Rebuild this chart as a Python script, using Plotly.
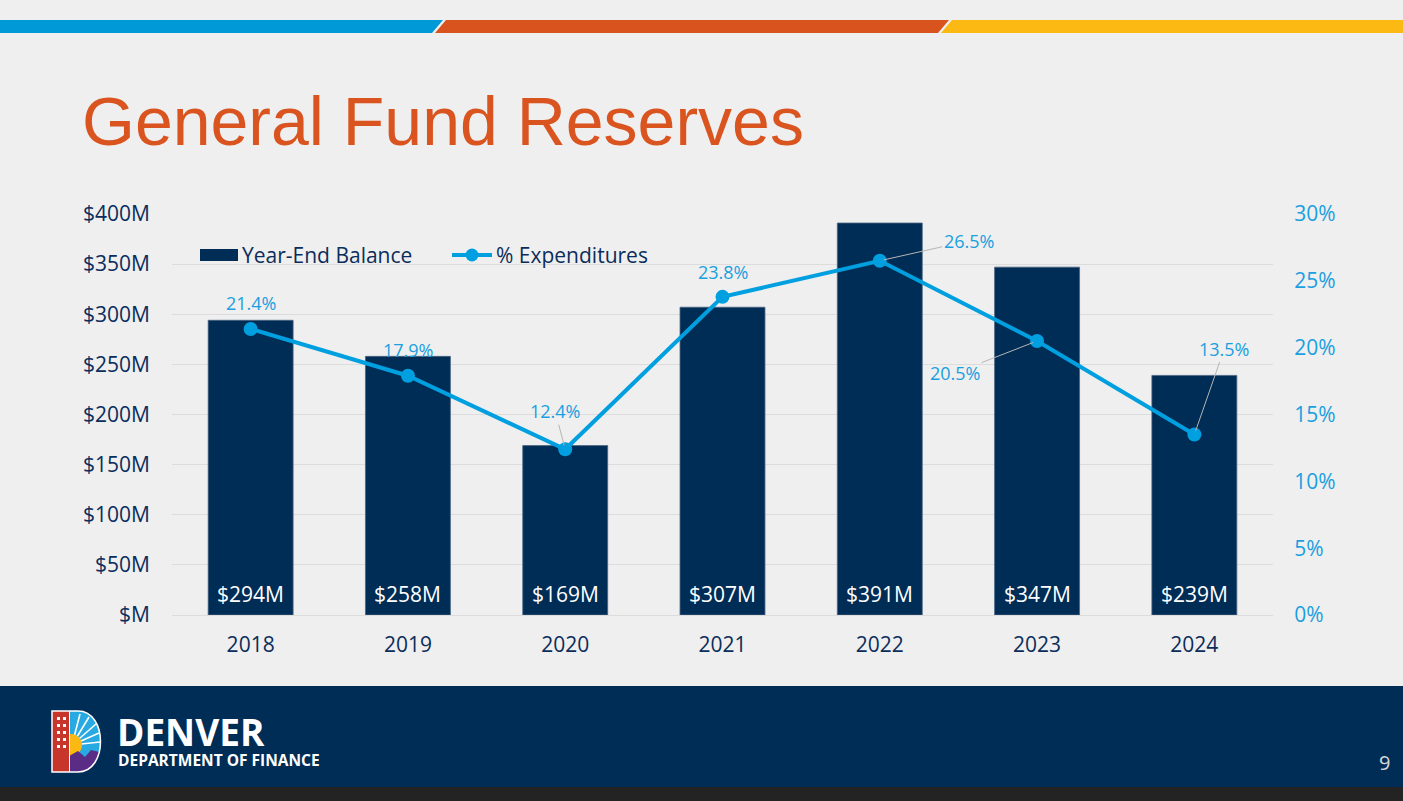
import plotly.graph_objects as go

# ---------------- data ----------------
years = ["2018", "2019", "2020", "2021", "2022", "2023", "2024"]
balance_m = [294, 258, 169, 307, 391, 347, 239]
pct_exp = [21.4, 17.9, 12.4, 23.8, 26.5, 20.5, 13.5]
left_tickvals = [0, 50, 100, 150, 200, 250, 300, 350, 400]
left_ticktext = ["$M", "$50M", "$100M", "$150M", "$200M", "$250M", "$300M", "$350M", "$400M"]
right_tickvals = [0, 5, 10, 15, 20, 25, 30]
right_ticktext = ["0%", "5%", "10%", "15%", "20%", "25%", "30%"]
# label offsets (px) for the % labels: (ax, ay, leader line?)
pct_label_offsets = [(0, -26, False), (0, -26, False), (-10, -38, True), (0, -25, False),
                     (89, -20, True), (-82, 32, True), (30, -86, True)]

# ---------------- style ----------------
W, H = 1403, 801
L, R, T, B = 172, 1273, 214, 615
NAVY = "#002D56"
TXT = "#0B2D5B"
LBLUE = "#009FDF"
BG = "#EFEFEF"
FONT = "Open Sans, Liberation Sans, Arial, sans-serif"


def X(px):
    return (px - L) / (R - L)


def Y(py):
    return (B - py) / (B - T)


fig = go.Figure()
fig.add_trace(go.Bar(x=years, y=balance_m, name="Year-End Balance",
                     marker=dict(color=NAVY, line=dict(color="#4a6380", width=0.8)),
                     width=0.54, hoverinfo="skip", showlegend=False))
fig.add_trace(go.Scatter(x=years, y=pct_exp, name="% Expenditures", yaxis="y2",
                         mode="lines+markers", line=dict(color=LBLUE, width=4),
                         marker=dict(size=14, color=LBLUE), hoverinfo="skip",
                         showlegend=False))

ann = []
# bar value labels (category index positions)
for i, v in enumerate(balance_m):
    ann.append(dict(x=i, y=0, xref="x", yref="y", text=f"${v}M", showarrow=False,
                    yanchor="middle", yshift=21, font=dict(size=21, color="white", family=FONT)))
# percentage labels
for i, (p, (ax, ay, lead)) in enumerate(zip(pct_exp, pct_label_offsets)):
    if lead:
        ann.append(dict(x=i, y=p, xref="x", yref="y2", text=f"{p}%", showarrow=True,
                        arrowhead=0, arrowwidth=1, arrowcolor="#B5B5B5", ax=ax, ay=ay,
                        standoff=4, font=dict(size=18, color="#1A9FE0", family=FONT)))
    else:
        ann.append(dict(x=i, y=p, xref="x", yref="y2", text=f"{p}%", showarrow=False,
                        yshift=-ay, xshift=ax, font=dict(size=18, color="#1A9FE0", family=FONT)))

# title
ann.append(dict(x=X(80), y=Y(121), xref="paper", yref="paper", xanchor="left", yanchor="middle",
                text="General Fund Reserves", showarrow=False,
                font=dict(size=68, color="#DA5420", family="Liberation Sans, Arial, sans-serif")))
# legend texts
ann.append(dict(x=X(240), y=Y(255), xref="paper", yref="paper", xanchor="left", yanchor="middle",
                text="Year-End Balance", showarrow=False, font=dict(size=21, color=TXT, family=FONT)))
ann.append(dict(x=X(494), y=Y(255), xref="paper", yref="paper", xanchor="left", yanchor="middle",
                text="% Expenditures", showarrow=False, font=dict(size=21, color=TXT, family=FONT)))
# footer texts
ann.append(dict(x=X(115), y=Y(731), xref="paper", yref="paper", xanchor="left", yanchor="middle",
                text="<b>DENVER</b>", showarrow=False, font=dict(size=37, color="white", family=FONT)))
ann.append(dict(x=X(116), y=Y(760), xref="paper", yref="paper", xanchor="left", yanchor="middle",
                text="<b>DEPARTMENT OF FINANCE</b>", showarrow=False,
                font=dict(size=15.5, color="white", family=FONT)))
ann.append(dict(x=X(1384), y=Y(762), xref="paper", yref="paper", xanchor="center", yanchor="middle",
                text="9", showarrow=False, font=dict(size=20, color="#D8D8D8", family=FONT)))

shapes = []


def rect(x0, y0, x1, y1, color, layer="above"):
    shapes.append(dict(type="rect", xref="paper", yref="paper", x0=X(x0), x1=X(x1), y0=Y(y0), y1=Y(y1),
                       fillcolor=color, line=dict(width=0), layer=layer))


def path(pts, color, layer="above"):
    s = "M " + " L ".join(f"{X(a):.5f},{Y(b):.5f}" for a, b in pts) + " Z"
    shapes.append(dict(type="path", xref="paper", yref="paper", path=s, fillcolor=color,
                       line=dict(width=0), layer=layer))


# top stripes
path([(0, 20), (443, 20), (432, 33), (0, 33)], "#0099D8", "below")
path([(446, 20), (949, 20), (938, 33), (435, 33)], "#D9531E", "below")
path([(952, 20), (1403, 20), (1403, 33), (941, 33)], "#FDB913", "below")
# footer band
rect(0, 686, 1403, 787, NAVY, "below")
rect(0, 787, 1403, 801, "#232323", "below")

# legend symbols
rect(200, 249, 238, 261, NAVY)
shapes.append(dict(type="line", xref="paper", yref="paper", x0=X(452), x1=X(492), y0=Y(255), y1=Y(255),
                   line=dict(color=LBLUE, width=4)))
shapes.append(dict(type="circle", xref="paper", yref="paper", x0=X(465.5), x1=X(478.5),
                   y0=Y(248.5), y1=Y(261.5), fillcolor=LBLUE, line=dict(width=0)))


# logo
def bez(p1, p2, p3):
    return (f"C {X(p1[0]):.5f},{Y(p1[1]):.5f} {X(p2[0]):.5f},{Y(p2[1]):.5f} "
            f"{X(p3[0]):.5f},{Y(p3[1]):.5f}")


dpath = (f"M {X(69):.5f},{Y(711):.5f} L {X(78):.5f},{Y(711):.5f} "
         + bez((108, 711), (108, 772), (78, 772))
         + f" L {X(69):.5f},{Y(772):.5f} Z")
shapes.append(dict(type="path", xref="paper", yref="paper", path=dpath, fillcolor="#27A9E1",
                   line=dict(width=0)))
for (xa, ya) in [(80, 714), (89, 717), (96, 724), (99, 733), (100, 742)]:
    shapes.append(dict(type="line", xref="paper", yref="paper", x0=X(72), y0=Y(745), x1=X(xa), y1=Y(ya),
                       line=dict(color="white", width=1.6)))
shapes.append(dict(type="circle", xref="paper", yref="paper", x0=X(60), x1=X(82), y0=Y(734), y1=Y(756),
                   fillcolor="#FDB913", line=dict(width=0)))
ppath = (f"M {X(69):.5f},{Y(756):.5f} L {X(78):.5f},{Y(751):.5f} L {X(85):.5f},{Y(757):.5f} "
         f"L {X(91):.5f},{Y(750):.5f} L {X(99.5):.5f},{Y(752):.5f} "
         + bez((97, 766), (89, 772), (78, 772))
         + f" L {X(69):.5f},{Y(772):.5f} Z")
shapes.append(dict(type="path", xref="paper", yref="paper", path=ppath, fillcolor="#5B2C86",
                   line=dict(width=0)))
rect(52, 711, 69, 772, "#C8352A")
for cx in (57, 63):
    for cy in (717, 724, 731, 738, 745):
        rect(cx, cy, cx + 3, cy + 3, "white")
shapes.append(dict(type="path", xref="paper", yref="paper",
                   path=(f"M {X(52):.5f},{Y(711):.5f} L {X(78):.5f},{Y(711):.5f} "
                         + bez((108, 711), (108, 772), (78, 772))
                         + f" L {X(52):.5f},{Y(772):.5f} Z"),
                   fillcolor="rgba(0,0,0,0)", line=dict(color="white", width=1.5)))
shapes.append(dict(type="line", xref="paper", yref="paper", x0=X(69.5), x1=X(69.5), y0=Y(711), y1=Y(772),
                   line=dict(color="white", width=1)))

fig.update_layout(
    width=W, height=H,
    margin=dict(l=L, r=W - R, t=T, b=H - B, pad=0),
    paper_bgcolor=BG, plot_bgcolor=BG,
    font=dict(family=FONT, color=TXT, size=21),
    showlegend=False,
    xaxis=dict(type="category", range=[-0.5, len(years) - 0.5], autorange=False,
               tickfont=dict(size=21, color=TXT), ticks="outside", ticklen=11,
               tickcolor="rgba(0,0,0,0)", showgrid=False, showline=False, zeroline=False),
    yaxis=dict(range=[0, 400], autorange=False, tickvals=left_tickvals, ticktext=left_ticktext,
               tickfont=dict(size=21, color=TXT), ticks="outside", ticklen=17,
               tickcolor="rgba(0,0,0,0)", showgrid=True, gridcolor="#DCDCDC", gridwidth=1,
               zeroline=True, zerolinecolor="#DCDCDC", zerolinewidth=1, showline=False),
    yaxis2=dict(range=[0, 30], autorange=False, overlaying="y", side="right", tickvals=right_tickvals,
                ticktext=right_ticktext, tickfont=dict(size=21, color="#1A9FE0"), ticks="outside",
                ticklen=16, tickcolor="rgba(0,0,0,0)", showgrid=False, zeroline=False, showline=False),
    annotations=ann,
    shapes=shapes,
)

fig.write_html("out.html")
